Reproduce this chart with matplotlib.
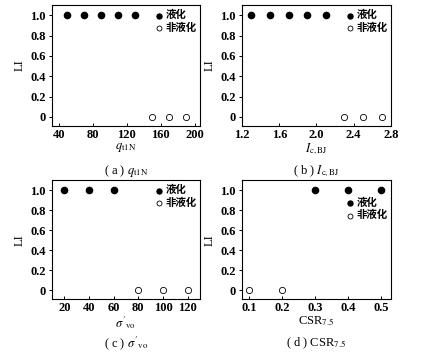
import matplotlib
matplotlib.use("Agg")
import matplotlib.pyplot as plt

plt.rcParams['font.family'] = ['Liberation Serif', 'Noto Sans CJK SC']
plt.rcParams['mathtext.fontset'] = 'stix'
plt.rcParams['font.size'] = 8

# 数据
q_liq = [50, 70, 90, 110, 130]
q_non = [150, 170, 190]
ic_liq = [1.3, 1.5, 1.7, 1.9, 2.1]
ic_non = [2.3, 2.5, 2.7]
sv_liq = [20, 40, 60]
sv_non = [80, 100, 120]
csr_liq = [0.3, 0.4, 0.5]
csr_non = [0.1, 0.2]
li_liq = 1.0
li_non = 0.0

panels = [
    dict(liq=q_liq, non=q_non, xlim=(32, 206), xticks=[40, 80, 120, 160, 200],
         xlabel=r'$q_{\mathrm{t1N}}$', tag='a', xticklabels=None,
         rect=[0.118, 0.649, 0.3364, 0.337], leg=(1.0, 0.985)),
    dict(liq=ic_liq, non=ic_non, xlim=(1.2, 2.8), xticks=[1.2, 1.6, 2.0, 2.4, 2.8],
         xlabel=r'$I_{\mathrm{c,BJ}}$', tag='b', xticklabels=['1.2', '1.6', '2.0', '2.4', '2.8'],
         rect=[0.55, 0.649, 0.3386, 0.337], leg=(1.0, 0.985)),
    dict(liq=sv_liq, non=sv_non, xlim=(10, 130), xticks=[20, 40, 60, 80, 100, 120],
         xlabel=r"$\sigma'_{\mathrm{vo}}$", tag='c', xticklabels=None,
         rect=[0.118, 0.167, 0.3364, 0.331], leg=(1.0, 0.985)),
    dict(liq=csr_liq, non=csr_non, xlim=(0.078, 0.53), xticks=[0.1, 0.2, 0.3, 0.4, 0.5],
         xlabel=r'CSR$_{7.5}$', tag='d', xticklabels=None,
         rect=[0.55, 0.167, 0.3386, 0.331], leg=(1.0, 0.88)),
]

fig = plt.figure(figsize=(4.4, 3.59), dpi=100)

for p in panels:
    ax = fig.add_axes(p['rect'])
    ax.scatter(p['liq'], [li_liq] * len(p['liq']), s=20, c='black', label='液化', zorder=3)
    ax.scatter(p['non'], [li_non] * len(p['non']), s=20, facecolors='white',
               edgecolors='black', linewidths=0.6, label='非液化', zorder=3)
    ax.set_xlim(p['xlim'])
    ax.set_ylim(-0.09, 1.1)
    ax.set_xticks(p['xticks'])
    if p['xticklabels'] is not None:
        ax.set_xticklabels(p['xticklabels'])
    ax.set_yticks([0, 0.2, 0.4, 0.6, 0.8, 1.0])
    ax.set_yticklabels(['0', '0.2', '0.4', '0.6', '0.8', '1.0'])
    ax.tick_params(axis='x', direction='in', length=2.5, width=0.7, pad=2, labelsize=9)
    ax.tick_params(axis='y', direction='out', length=2.5, width=0.7, pad=2, labelsize=9)
    for lbl in ax.get_xticklabels() + ax.get_yticklabels():
        lbl.set_fontweight('bold')
    for s in ax.spines.values():
        s.set_linewidth(0.8)
    ax.set_ylabel('LI', fontsize=9, labelpad=3)
    ax.set_xlabel(p['xlabel'], fontsize=9, labelpad=0)
    ax.legend(loc='upper right', bbox_to_anchor=p['leg'], frameon=False,
              handletextpad=0.1, labelspacing=0.2, borderaxespad=0.2,
              handlelength=1.0, borderpad=0.1, markerscale=0.8,
              prop={'family': ['Noto Sans CJK SC'], 'size': 7.5, 'weight': 'bold'})
    ax.text(0.5, -0.37, '( ' + p['tag'] + ' ) ' + p['xlabel'], transform=ax.transAxes,
            ha='center', va='center', fontsize=9)

fig.savefig('out.png', dpi=100)
